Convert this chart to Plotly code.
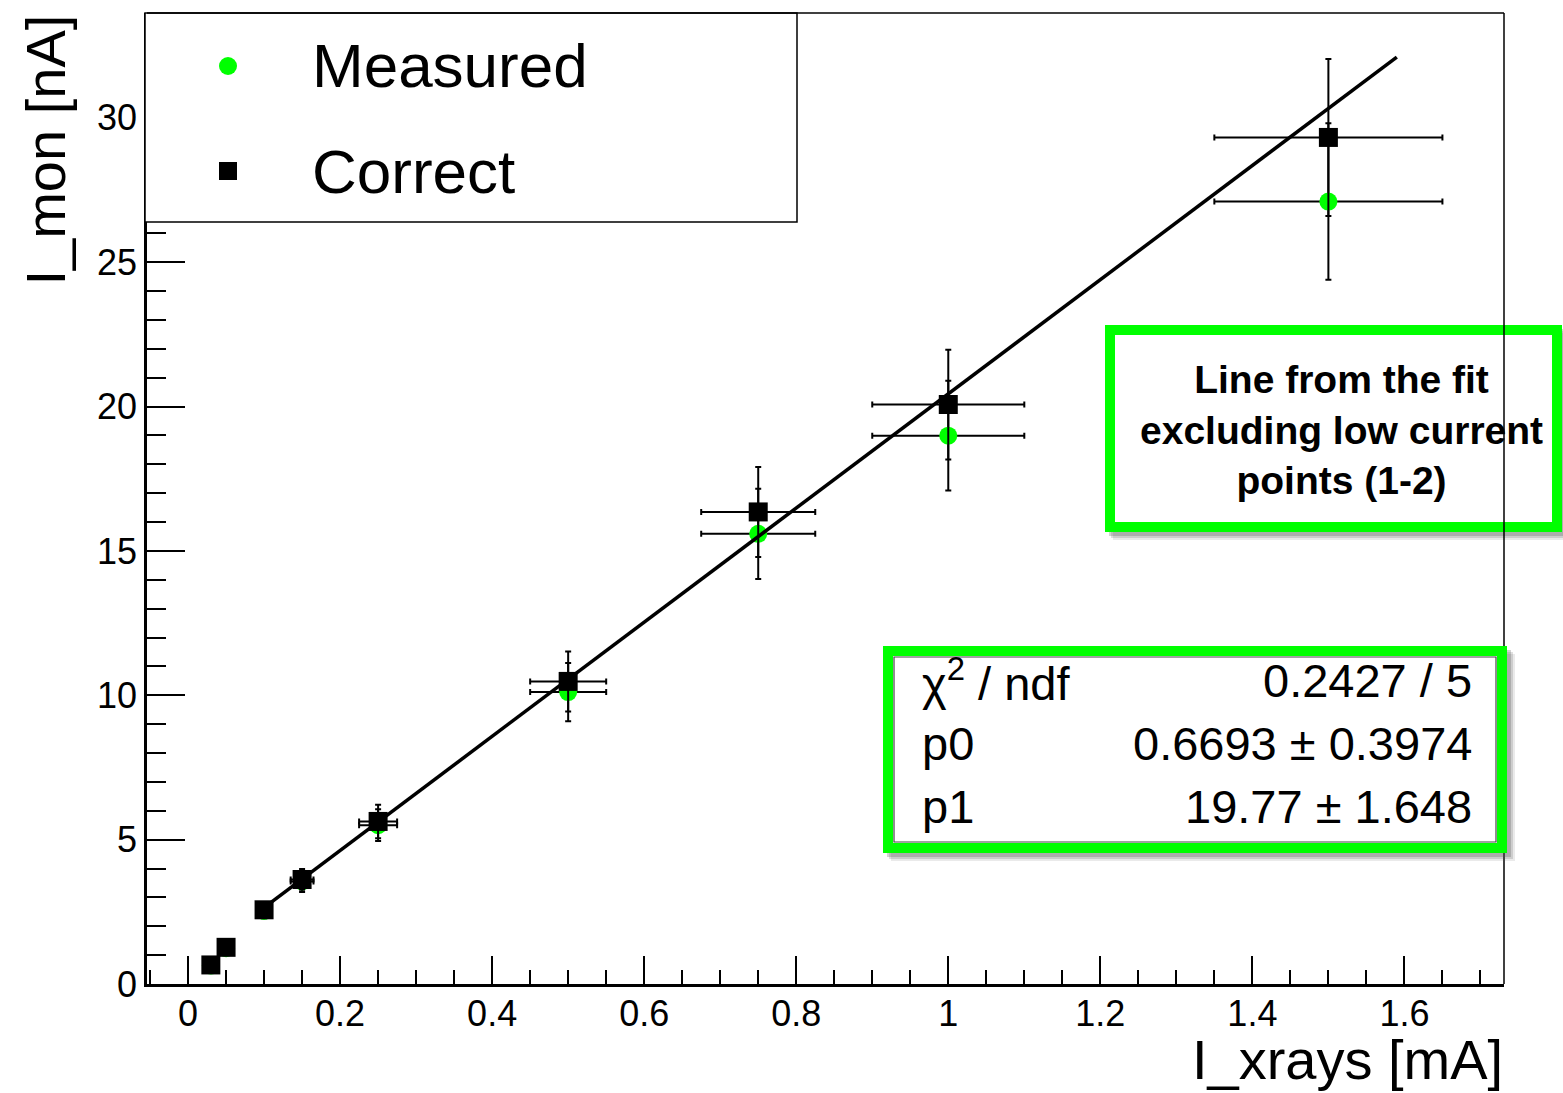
import plotly.graph_objects as go

# ---------------- data ----------------
x_mA = [0.03, 0.05, 0.10, 0.15, 0.25, 0.50, 0.75, 1.00, 1.50]
x_err = [0.003, 0.005, 0.010, 0.015, 0.025, 0.050, 0.075, 0.100, 0.150]
measured_nA = [0.64, 1.24, 2.53, 3.55, 5.50, 10.11, 15.59, 18.99, 27.10]
measured_err = [0.06, 0.12, 0.25, 0.36, 0.55, 1.01, 1.56, 1.90, 2.71]
correct_nA = [0.66, 1.27, 2.57, 3.62, 5.63, 10.48, 16.35, 20.07, 29.32]
correct_err = [0.07, 0.13, 0.26, 0.36, 0.58, 1.04, 1.56, 1.90, 2.72]

fit_p0 = 0.6693
fit_p1 = 19.77
fit_range = [0.10, 1.59]

x_tickvals = [0, 0.2, 0.4, 0.6, 0.8, 1.0, 1.2, 1.4, 1.6]
x_ticktext = ["0", "0.2", "0.4", "0.6", "0.8", "1", "1.2", "1.4", "1.6"]
y_tickvals = [0, 5, 10, 15, 20, 25, 30]
y_ticktext = ["0", "5", "10", "15", "20", "25", "30"]

stats_labels = ["χ<sup>2</sup> / ndf", "p0", "p1"]
stats_values = ["0.2427 / 5", "0.6693 ± 0.3974", "19.77 ± 1.648"]
note_text = "Line from the fit<br>excluding low current<br>points (1-2)"
legend_labels = ["Measured", "Correct"]

GREEN = "#00ff00"
FONT = "Liberation Sans, Arial, Helvetica, sans-serif"

# plot-area pixel geometry
W, H = 1563, 1093
L, R, T, B = 147, 1504, 13, 984


def px(xp):
    return (xp - L) / (R - L)


def py(yp):
    return (B - yp) / (B - T)


fig = go.Figure()

fig.add_trace(go.Scatter(
    x=x_mA, y=measured_nA, mode="markers", showlegend=False,
    marker=dict(symbol="circle", size=18, color=GREEN, line=dict(width=0)),
    error_x=dict(type="data", array=x_err, color="black", thickness=2, width=3),
    error_y=dict(type="data", array=measured_err, color="black", thickness=2, width=3),
))
fig.add_trace(go.Scatter(
    x=x_mA, y=correct_nA, mode="markers", showlegend=False,
    marker=dict(symbol="square", size=19, color="black", line=dict(width=0)),
    error_x=dict(type="data", array=x_err, color="black", thickness=2, width=3),
    error_y=dict(type="data", array=correct_err, color="black", thickness=2, width=3),
))
fig.add_trace(go.Scatter(
    x=fit_range, y=[fit_p0 + fit_p1 * v for v in fit_range],
    mode="lines", showlegend=False, line=dict(color="black", width=3.5),
))

shapes = []


def rect(x0, y0, x1, y1, **kw):
    d = dict(type="rect", xref="paper", yref="paper",
             x0=px(x0), x1=px(x1), y0=py(y1), y1=py(y0), layer="above")
    d.update(kw)
    shapes.append(d)


def line(x0, y0, x1, y1, color="black", width=1.5):
    shapes.append(dict(type="line", xref="paper", yref="paper",
                       x0=px(x0), x1=px(x1), y0=py(y0), y1=py(y1),
                       line=dict(color=color, width=width), layer="above"))


# legend box
rect(145, 13, 797, 222, fillcolor="white", line=dict(color="black", width=1.5))
shapes.append(dict(type="circle", xref="paper", yref="paper",
                   x0=px(219), x1=px(237), y0=py(75), y1=py(57),
                   fillcolor=GREEN, line=dict(width=0), layer="above"))
rect(219, 162, 237, 180, fillcolor="black", line=dict(width=0))

# note box (with shadow)
for off, op in [(8, 0.12), (6, 0.18), (4, 0.25)]:
    rect(1105 + off, 325 + off, 1562 + off, 532 + off, fillcolor="rgba(80,80,80,%s)" % op, line=dict(width=0))
rect(1110, 330, 1557, 527, fillcolor="white", line=dict(color=GREEN, width=10))

# top & right frame lines
line(147, 13, 1504, 13, width=1.5)
line(1504, 13, 1504, 984, width=1.5)

# stats box (with shadow)
for off, op in [(8, 0.12), (6, 0.18), (4, 0.25)]:
    rect(883 + off, 646 + off, 1507 + off, 853 + off, fillcolor="rgba(80,80,80,%s)" % op, line=dict(width=0))
rect(888, 651, 1502, 848, fillcolor="white", line=dict(color=GREEN, width=10))
rect(894, 657, 1496, 842, fillcolor="rgba(0,0,0,0)", line=dict(color="#444444", width=1.2))

annotations = []


def text(xp, yp, s, size, xanchor="left", yanchor="middle", bold=False, angle=0, align="left"):
    annotations.append(dict(
        xref="paper", yref="paper", x=px(xp), y=py(yp), text=("<b>%s</b>" % s) if bold else s,
        showarrow=False, xanchor=xanchor, yanchor=yanchor, textangle=angle, align=align,
        font=dict(family=FONT, size=size, color="black"),
    ))


text(310, 66, legend_labels[0], 62)
text(310, 171, legend_labels[1], 62)

text(1341, 430, note_text, 39, xanchor="center", bold=True, align="center")

rows_y = [680, 743, 806]
for lab, val, yy in zip(stats_labels, stats_values, rows_y):
    text(920, yy, lab, 47)
    text(1474, yy, val, 47, xanchor="right")

text(1505, 1059, "I_xrays [mA]", 56, xanchor="right")
text(45, 13, "I_mon [nA]", 56, xanchor="center", yanchor="top", angle=-90)

fig.update_layout(
    width=W, height=H,
    margin=dict(l=L, r=W - R, t=T, b=H - B, pad=0),
    paper_bgcolor="white", plot_bgcolor="white",
    font=dict(family=FONT, color="black"),
    shapes=shapes, annotations=annotations,
    xaxis=dict(
        range=[-0.054, 1.731], showgrid=False, zeroline=False,
        showline=True, linecolor="black", linewidth=2.5, mirror=False,
        ticks="inside", ticklen=28, tickwidth=2, tickcolor="black",
        tickmode="array", tickvals=x_tickvals, ticktext=x_ticktext,
        tickfont=dict(family=FONT, size=36, color="black"),
        ticklabelstandoff=-4,
        minor=dict(tickmode="linear", tick0=0, dtick=0.05, ticks="inside",
                   ticklen=14, tickwidth=2, tickcolor="black", showgrid=False),
    ),
    yaxis=dict(
        range=[0, 33.63], showgrid=False, zeroline=False,
        showline=True, linecolor="black", linewidth=2.5, mirror=False,
        ticks="inside", ticklen=38, tickwidth=2, tickcolor="black",
        tickmode="array", tickvals=y_tickvals, ticktext=y_ticktext,
        tickfont=dict(family=FONT, size=36, color="black"),
        minor=dict(tickmode="linear", tick0=0, dtick=1, ticks="inside",
                   ticklen=19, tickwidth=2, tickcolor="black", showgrid=False),
    ),
)

fig.write_html("out.html")
